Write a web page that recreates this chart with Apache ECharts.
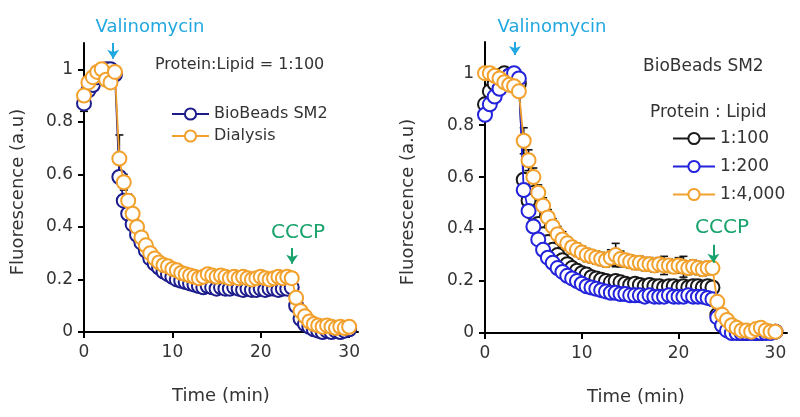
<!DOCTYPE html>
<html>
<head>
<meta charset="utf-8">
<script src="https://cdn.jsdelivr.net/npm/echarts@6/dist/echarts.min.js"></script>
<style>html,body{margin:0;padding:0;background:#fff;}#c{width:800px;height:417px;}</style>
</head>
<body>
<div id="c"></div>
<script>
// ---------- data ----------
var times = [0,0.5,1,1.5,2,2.5,3,3.5,4,4.5,5,5.5,6,6.5,7,7.5,8,8.5,9,9.5,10,10.5,11,11.5,12,12.5,13,13.5,14,14.5,15,15.5,16,16.5,17,17.5,18,18.5,19,19.5,20,20.5,21,21.5,22,22.5,23,23.5,24,24.5,25,25.5,26,26.5,27,27.5,28,28.5,29,29.5,30];

// Left panel (Protein:Lipid = 1:100)
var leftBioBeads = [0.87,0.92,0.94,0.97,0.99,1.00,1.00,0.98,0.59,0.50,0.45,0.41,0.37,0.34,0.31,0.28,0.26,0.245,0.23,0.22,0.21,0.20,0.195,0.19,0.185,0.18,0.175,0.17,0.175,0.17,0.165,0.17,0.165,0.165,0.17,0.165,0.16,0.165,0.16,0.16,0.165,0.16,0.165,0.165,0.16,0.165,0.165,0.17,0.10,0.05,0.03,0.02,0.01,0.005,0.0,0.005,0.0,0.005,0.0,0.005,0.01];
var leftDialysis = [0.90,0.95,0.97,0.99,1.00,0.96,0.95,0.99,0.66,0.57,0.50,0.45,0.40,0.36,0.33,0.30,0.28,0.265,0.255,0.25,0.24,0.235,0.225,0.22,0.215,0.21,0.205,0.21,0.22,0.215,0.21,0.215,0.21,0.205,0.21,0.205,0.21,0.205,0.20,0.205,0.21,0.205,0.20,0.205,0.21,0.205,0.21,0.205,0.13,0.08,0.06,0.04,0.03,0.025,0.02,0.025,0.02,0.015,0.02,0.015,0.02];
var leftBioBeadsErr = [0.03,0,0,0,0,0,0,0,0.02,0.02,0.01,0.01,0.01,0.01,0.01,0.01,0,0,0,0,0,0,0,0,0,0,0,0,0,0,0,0,0,0,0,0,0,0,0,0,0,0,0,0,0,0,0,0,0,0,0,0,0,0,0,0,0,0,0,0,0.01];
var leftDialysisErr = [0,0,0,0,0,0,0,0,0.09,0.03,0.025,0.02,0.02,0.02,0.02,0.02,0.015,0.01,0.01,0,0,0,0,0,0,0,0,0,0,0,0,0,0,0,0,0,0,0,0,0,0,0,0,0,0,0,0,0,0,0,0,0,0,0,0,0,0,0,0,0,0];

// Right panel (BioBeads SM2)
var right1to100 = [0.88,0.93,0.96,0.99,1.00,0.99,0.98,0.96,0.59,0.51,0.46,0.42,0.38,0.35,0.32,0.30,0.28,0.265,0.25,0.24,0.23,0.225,0.215,0.21,0.205,0.20,0.195,0.20,0.195,0.19,0.185,0.19,0.185,0.18,0.185,0.18,0.18,0.175,0.18,0.18,0.175,0.18,0.175,0.18,0.18,0.175,0.18,0.175,0.07,0.03,0.02,0.01,0.005,0.0,0.0,0.005,0.0,0.0,0.005,0.005,0.005];
var right1to200 = [0.84,0.88,0.91,0.94,0.97,0.99,1.00,0.98,0.55,0.47,0.41,0.36,0.32,0.29,0.27,0.25,0.235,0.22,0.21,0.20,0.19,0.18,0.175,0.17,0.165,0.16,0.155,0.155,0.15,0.15,0.145,0.145,0.145,0.14,0.145,0.14,0.14,0.14,0.145,0.14,0.14,0.14,0.145,0.14,0.14,0.14,0.135,0.13,0.06,0.03,0.01,0.0,0.0,0.0,0.0,0.0,0.0,0.0,0.0,0.0,0.005];
var right1to4000 = [1.00,1.00,0.99,0.98,0.965,0.955,0.95,0.93,0.74,0.665,0.60,0.54,0.49,0.445,0.41,0.38,0.36,0.345,0.33,0.32,0.31,0.30,0.295,0.29,0.285,0.28,0.29,0.30,0.285,0.28,0.275,0.27,0.27,0.265,0.265,0.26,0.265,0.26,0.26,0.255,0.26,0.255,0.25,0.255,0.25,0.245,0.25,0.25,0.12,0.07,0.05,0.03,0.02,0.01,0.01,0.005,0.015,0.02,0.01,0.005,0.005];
var right1to100Err = [0,0,0,0,0,0,0,0,0.02,0.02,0.02,0.02,0.02,0.02,0.02,0.02,0.02,0.02,0.02,0.02,0.02,0.02,0.02,0.02,0.02,0.02,0.02,0.02,0.02,0.02,0.02,0.02,0.02,0.02,0.02,0.02,0.02,0.02,0.02,0.02,0.02,0.02,0.02,0.02,0.02,0.02,0.02,0.02,0,0,0,0,0,0,0,0,0,0,0,0,0.01];
var right1to4000Err = [0,0,0,0,0,0,0,0,0.05,0.04,0.035,0.03,0.03,0.03,0.03,0.03,0.03,0.025,0.025,0.025,0.025,0.025,0.025,0.025,0.025,0.025,0.03,0.045,0.03,0.025,0.025,0.025,0.025,0.025,0.025,0.025,0.025,0.035,0.025,0.025,0.03,0.04,0.025,0.025,0.025,0.025,0.025,0.02,0,0,0,0,0,0,0,0,0,0,0,0,0];

var xTicks = [0,10,20,30];
var yTicks = [0,0.2,0.4,0.6,0.8,1];

// ---------- styling ----------
var FONT = 'DejaVu Sans';
var TXT = '#333';
var C_NAVY = '#1c1c8c', C_ORANGE = '#f2a12c', C_BLUE = '#2323dc', C_BLACK = '#1a1a1a';
var C_VAL = '#22a8e0', C_CCCP = '#18a36c';

function pts(arr){ return times.map(function(t,i){ return [t, arr[i]]; }); }
function errPts(arr, err){ var o=[]; times.forEach(function(t,i){ if(err[i]>0) o.push([t, arr[i], err[i]]); }); return o; }

function lineSeries(name, arr, color, gi, z){
  return {
    name: name, type: 'line', xAxisIndex: gi, yAxisIndex: gi, z: z,
    data: pts(arr), symbol: 'circle', symbolSize: 14, showAllSymbol: true,
    itemStyle: { color: '#fff', borderColor: color, borderWidth: 2 },
    lineStyle: { color: color, width: 1.8 },
    emphasis: { disabled: true }
  };
}
function errSeries(arr, err, gi){
  return {
    type: 'custom', xAxisIndex: gi, yAxisIndex: gi, z: 1, silent: true,
    data: errPts(arr, err),
    renderItem: function(params, api){
      var t = api.value(0), y = api.value(1), e = api.value(2);
      var top = api.coord([t, y + e]), bot = api.coord([t, y - e]);
      var st = { stroke: '#111', lineWidth: 1.6 };
      return { type: 'group', children: [
        { type: 'line', shape: { x1: top[0], y1: top[1], x2: bot[0], y2: bot[1] }, style: st },
        { type: 'line', shape: { x1: top[0]-4, y1: top[1], x2: top[0]+4, y2: top[1] }, style: st },
        { type: 'line', shape: { x1: bot[0]-4, y1: bot[1], x2: bot[0]+4, y2: bot[1] }, style: st }
      ]};
    }
  };
}
function arrowSeries(gi, color, from, to){
  return {
    type: 'line', xAxisIndex: gi, yAxisIndex: gi, data: [], silent: true,
    markLine: {
      silent: true, animation: false, symbol: ['none','arrow'], symbolSize: [9,9],
      lineStyle: { color: color, width: 2, type: 'solid' }, label: { show: false },
      data: [[{ coord: from }, { coord: to }]]
    }
  };
}
function xAxisCfg(gi, max){
  return {
    type: 'value', gridIndex: gi, min: 0, max: max,
    name: 'Time (min)', nameLocation: 'middle', nameGap: 55,
    nameTextStyle: { fontFamily: FONT, fontSize: 18, color: TXT },
    axisLine: { lineStyle: { color: '#000', width: 2 } },
    axisTick: { show: true, length: 6, lineStyle: { color: '#000', width: 2 }, customValues: xTicks },
    axisLabel: { customValues: xTicks, margin: 12, fontFamily: FONT, fontSize: 17, color: TXT },
    splitLine: { show: false }
  };
}
function yAxisCfg(gi, max){
  return {
    type: 'value', gridIndex: gi, min: 0, max: max,
    axisLine: { show: true, lineStyle: { color: '#000', width: 2 } },
    axisTick: { show: true, length: 6, lineStyle: { color: '#000', width: 2 }, customValues: yTicks },
    axisLabel: { customValues: yTicks, margin: 11, fontFamily: FONT, fontSize: 17, color: TXT },
    splitLine: { show: false }
  };
}
function txt(x, y, s, size, color, align, rot){
  return { type: 'text', x: x, y: y, rotation: rot || 0, silent: true,
    style: { text: s, fontFamily: FONT, fontSize: size, fill: color, align: align || 'left', verticalAlign: 'middle' } };
}

var chart = echarts.init(document.getElementById('c'), null, { renderer: 'canvas' });
chart.setOption({
  animation: false,
  backgroundColor: '#fff',
  textStyle: { fontFamily: FONT },
  grid: [
    { left: 84, right: 442, top: 43, bottom: 85 },
    { left: 485, right: 13, top: 42, bottom: 84 }
  ],
  xAxis: [ xAxisCfg(0, 31), xAxisCfg(1, 31.2) ],
  yAxis: [ yAxisCfg(0, 1.1), yAxisCfg(1, 1.12) ],
  legend: [
    { data: ['BioBeads SM2','Dialysis'], orient: 'vertical', left: 166, top: 101,
      itemWidth: 37, itemHeight: 14, itemGap: 6,
      textStyle: { fontFamily: FONT, fontSize: 16, color: TXT, lineHeight: 16 } },
    { data: ['1:100','1:200','1:4,000'], orient: 'vertical', left: 667, top: 125,
      itemWidth: 42, itemHeight: 14, itemGap: 11,
      textStyle: { fontFamily: FONT, fontSize: 17, color: TXT, lineHeight: 16 } }
  ],
  graphic: [
    txt(150, 27, 'Valinomycin', 18, C_VAL, 'center'),
    txt(552, 27, 'Valinomycin', 18, C_VAL, 'center'),
    txt(155, 65, 'Protein:Lipid = 1:100', 16, TXT, 'left'),
    txt(298, 233, 'CCCP', 20, C_CCCP, 'center'),
    txt(722, 228, 'CCCP', 20, C_CCCP, 'center'),
    txt(643, 67, 'BioBeads SM2', 17, TXT, 'left'),
    txt(650, 113, 'Protein : Lipid', 17, TXT, 'left'),
    txt(18, 192, 'Fluorescence (a.u)', 18, TXT, 'center', Math.PI/2),
    txt(408, 202, 'Fluorescence (a.u)', 18, TXT, 'center', Math.PI/2)
  ],
  series: [
    errSeries(leftBioBeads, leftBioBeadsErr, 0),
    errSeries(leftDialysis, leftDialysisErr, 0),
    lineSeries('BioBeads SM2', leftBioBeads, C_NAVY, 0, 2),
    lineSeries('Dialysis', leftDialysis, C_ORANGE, 0, 3),
    errSeries(right1to100, right1to100Err, 1),
    errSeries(right1to4000, right1to4000Err, 1),
    lineSeries('1:100', right1to100, C_BLACK, 1, 2),
    lineSeries('1:200', right1to200, C_BLUE, 1, 3),
    lineSeries('1:4,000', right1to4000, C_ORANGE, 1, 4),
    arrowSeries(0, C_VAL, [3.3, 1.10], [3.3, 1.04]),
    arrowSeries(1, C_VAL, [3.1, 1.12], [3.1, 1.07]),
    arrowSeries(0, C_CCCP, [23.55, 0.32], [23.55, 0.26]),
    arrowSeries(1, C_CCCP, [23.6, 0.34], [23.6, 0.27])
  ]
});
</script>
</body>
</html>
